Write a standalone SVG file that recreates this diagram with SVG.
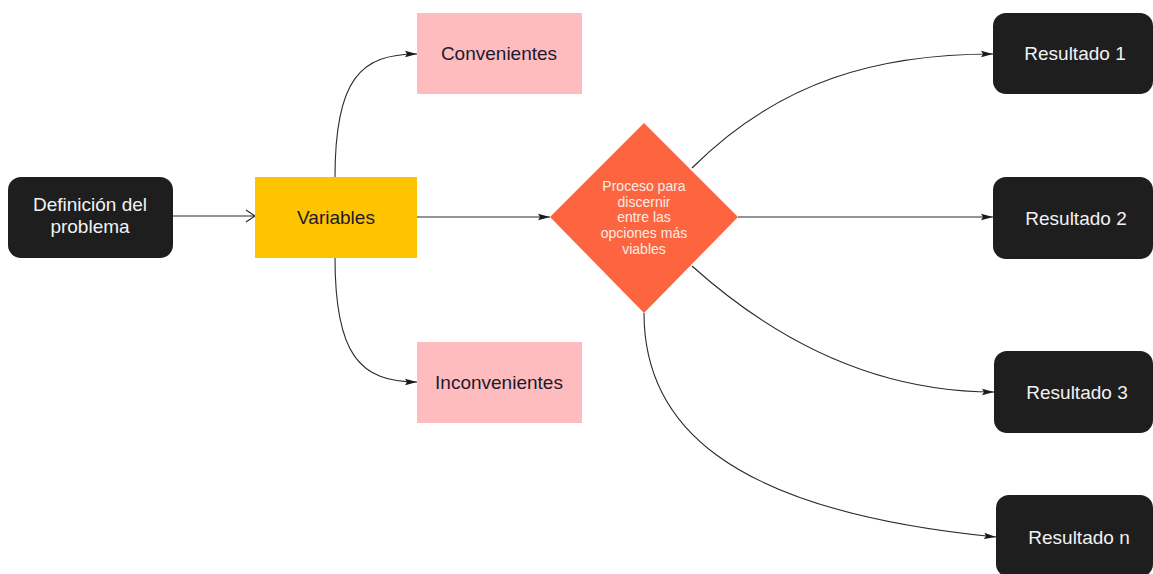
<svg xmlns="http://www.w3.org/2000/svg" width="1153" height="574" viewBox="0 0 1153 574">
<defs>
<style>
.dark{fill:#1e1e1e}
.pink{fill:#ffbcbf}
.lbl{font-family:"Liberation Sans",Arial,sans-serif;font-size:19px;text-anchor:middle}
.wt{fill:#f2f2f2}
.bk{fill:#1c1a2e}
.conn{fill:none;stroke:#2a2a2a;stroke-width:1.1}
</style>
<marker id="ah" markerUnits="userSpaceOnUse" markerWidth="12" markerHeight="8" refX="12" refY="4" orient="auto">
<path d="M0,0.8 L12,4 L0,7.2 L2,4 z" fill="#1a1a1a"/>
</marker>
<marker id="open" markerUnits="userSpaceOnUse" markerWidth="12" markerHeight="14" refX="10" refY="7" orient="auto">
<path d="M1,1 L10,7 L1,13" fill="none" stroke="#2a2a2a" stroke-width="1.2"/>
</marker>
</defs>
<rect width="1153" height="574" fill="#ffffff"/>
<g id="connectors">
<path class="conn" d="M173,216 L255,216" marker-end="url(#open)"/>
<path class="conn" d="M335,177 C335,80 360,54 417,54" marker-end="url(#ah)"/>
<path class="conn" d="M335,258 C335,355 360,382 417,382" marker-end="url(#ah)"/>
<path class="conn" d="M417,217 L550,217" marker-end="url(#ah)"/>
<path class="conn" d="M692,168 C780,80 880,54 993,54" marker-end="url(#ah)"/>
<path class="conn" d="M738,217 L993,217" marker-end="url(#ah)"/>
<path class="conn" d="M692,266 C780,345 880,392 994,392" marker-end="url(#ah)"/>
<path class="conn" d="M644,313 C644,420 720,510 996,537" marker-end="url(#ah)"/>
</g>
<g id="definicion">
<rect class="dark" x="8" y="177" width="165" height="81" rx="13"/>
<text class="lbl wt" x="90" y="211">Definición del</text>
<text class="lbl wt" x="90" y="233">problema</text>
</g>
<g id="variables">
<rect x="255" y="177" width="162" height="81" fill="#fec400"/>
<text class="lbl bk" x="336" y="224">Variables</text>
</g>
<g id="convenientes">
<rect class="pink" x="417" y="13" width="165" height="81"/>
<text class="lbl bk" x="499" y="60">Convenientes</text>
</g>
<g id="inconvenientes">
<rect class="pink" x="417" y="342" width="165" height="81"/>
<text class="lbl bk" x="499" y="389">Inconvenientes</text>
</g>
<g id="proceso">
<polygon points="644,123 738,217 644,313 550,217" fill="#fd6540"/>
<g font-family="'Liberation Sans',Arial,sans-serif" font-size="14" text-anchor="middle" fill="#f8ece4">
<text x="644" y="191">Proceso para</text>
<text x="644" y="207">discernir</text>
<text x="644" y="222">entre las</text>
<text x="644" y="238">opciones más</text>
<text x="644" y="254">viables</text>
</g>
</g>
<g id="resultado1">
<rect class="dark" x="993" y="13" width="160" height="81" rx="13"/>
<text class="lbl wt" x="1075" y="60">Resultado 1</text>
</g>
<g id="resultado2">
<rect class="dark" x="993" y="177" width="160" height="82" rx="13"/>
<text class="lbl wt" x="1076" y="225">Resultado 2</text>
</g>
<g id="resultado3">
<rect class="dark" x="994" y="351" width="159" height="82" rx="13"/>
<text class="lbl wt" x="1077" y="399">Resultado 3</text>
</g>
<g id="resultadon">
<rect class="dark" x="996" y="495" width="157" height="82" rx="13"/>
<text class="lbl wt" x="1079" y="544">Resultado n</text>
</g>
</svg>
